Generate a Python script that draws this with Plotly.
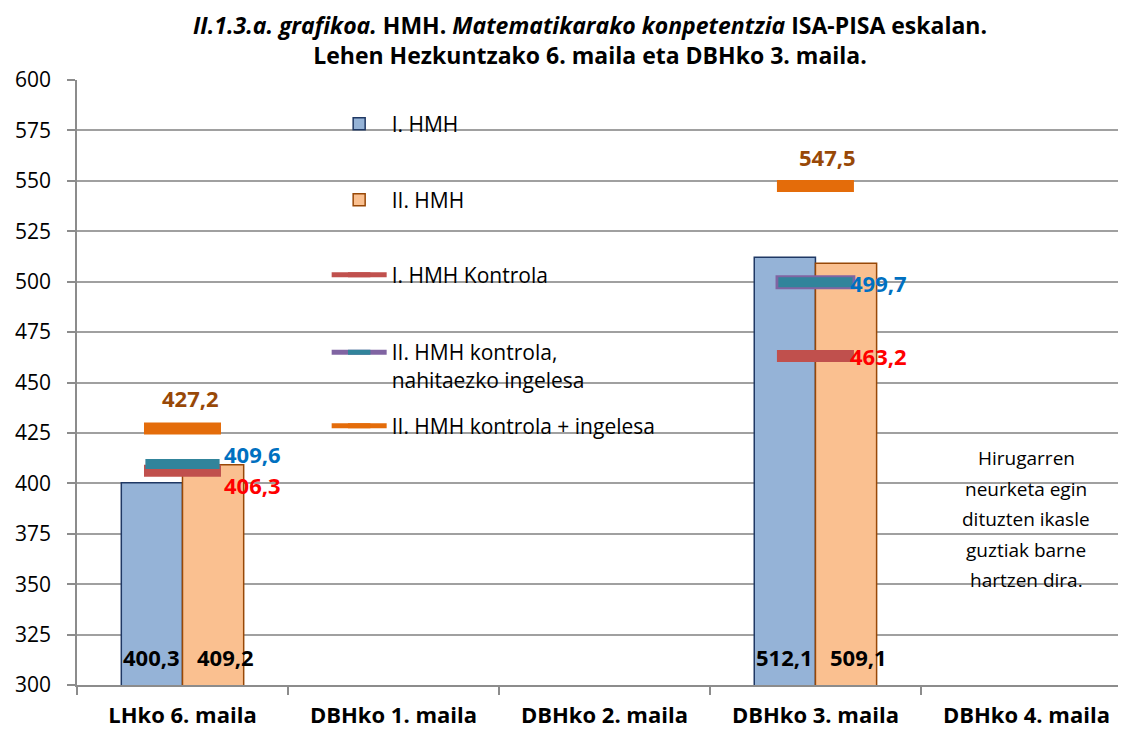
import plotly.graph_objects as go

categories = ["LHko 6. maila", "DBHko 1. maila", "DBHko 2. maila", "DBHko 3. maila", "DBHko 4. maila"]
hmh1 = [400.3, None, None, 512.1, None]
hmh2 = [409.2, None, None, 509.1, None]
kontrola1 = [406.3, None, None, 463.2, None]
kontrola2_nahit = [409.6, None, None, 499.7, None]
kontrola2_ingelesa = [427.2, None, None, 547.5, None]
y_ticks = [300, 325, 350, 375, 400, 425, 450, 475, 500, 525, 550, 575, 600]
note_lines = ["Hirugarren", "neurketa egin", "dituzten ikasle", "guztiak barne", "hartzen dira."]

FONT = "Open Sans"
# page is offset by the 8px body margin: figure px = page px - 8
PT, PB, PL = 72, 677, 69   # plot top / bottom / left in figure px
PH = PB - PT

def fmt(v):
    return f"{v:.1f}".replace(".", ",")

def ypaper(page_px):
    return (PB - (page_px - 8)) / PH

fig = go.Figure()

fig.add_trace(go.Bar(x=categories, y=hmh1, name="I. HMH", legend="legend",
                     marker=dict(color="#95B3D7", line=dict(color="#1F3864", width=1.5))))
fig.add_trace(go.Bar(x=categories, y=hmh2, name="II. HMH", legend="legend2",
                     marker=dict(color="#FAC090", line=dict(color="#984807", width=1.5))))

MW, MH = 55, 12
fig.add_trace(go.Scatter(x=categories, y=kontrola1, name="I. HMH Kontrola", legend="legend3",
                         mode="lines+markers", line=dict(color="#C0504D", width=5),
                         marker=dict(symbol="line-ew", size=MW, line=dict(color="#C0504D", width=MH))))
# purple border of II kontrola markers
fig.add_trace(go.Scatter(x=categories, y=kontrola2_nahit, showlegend=False, mode="markers",
                         hoverinfo="skip",
                         marker=dict(symbol="line-ew", size=MW + 2,
                                     line=dict(color=["rgba(0,0,0,0)", "#8064A2", "#8064A2", "#8064A2", "#8064A2"],
                                               width=MH + 2))))
fig.add_trace(go.Scatter(x=categories, y=kontrola2_nahit, name="II. HMH kontrola,<br>nahitaezko ingelesa",
                         legend="legend4", mode="lines+markers", line=dict(color="#8064A2", width=5),
                         marker=dict(symbol="line-ew", size=MW - 2, line=dict(color="#31849B", width=MH - 2))))
fig.add_trace(go.Scatter(x=categories, y=kontrola2_ingelesa, name="II. HMH kontrola + ingelesa",
                         legend="legend5", mode="lines+markers", line=dict(color="#E46C0A", width=5),
                         marker=dict(symbol="line-ew", size=MW, line=dict(color="#E46C0A", width=MH))))

annotations = []
# bar value labels at bar base
for vals, dx in ((hmh1, -31), (hmh2, 43)):
    for c, v in zip(categories, vals):
        if v is None:
            continue
        annotations.append(dict(x=c, y=300, xref="x", yref="y", text=f"<b>{fmt(v)}</b>", showarrow=False,
                                xshift=dx, yshift=28, yanchor="middle",
                                font=dict(family=FONT, size=22, color="black")))

series_labels = [
    (kontrola2_ingelesa, "#984807", "center", [8, 0, 0, 12, 0], [30, 0, 0, 29, 0]),
    (kontrola2_nahit, "#0070C0", "left", [40, 0, 0, 33, 0], [10, 0, 0, -1, 0]),
    (kontrola1, "#FF0000", "left", [40, 0, 0, 33, 0], [-14, 0, 0, 0, 0]),
]
for vals, col, anchor, dxs, dys in series_labels:
    for c, v, dx, dy in zip(categories, vals, dxs, dys):
        if v is None:
            continue
        annotations.append(dict(x=c, y=v, xref="x", yref="y", text=f"<b>{fmt(v)}</b>", showarrow=False,
                                xanchor=anchor, yanchor="middle", xshift=dx, yshift=dy,
                                font=dict(family=FONT, size=22, color=col)))

for i, line in enumerate(note_lines):
    annotations.append(dict(x=categories[4], y=ypaper(458 + i * 30.5), xref="x", yref="paper", text=line,
                            showarrow=False, xanchor="center", yanchor="middle",
                            font=dict(family=FONT, size=19, color="black")))

def leg(page_y, anchor="middle", valign="middle"):
    return dict(x=0.238, y=ypaper(page_y), xref="paper", yref="paper", xanchor="left", yanchor=anchor,
                bgcolor="rgba(0,0,0,0)", font=dict(family=FONT, size=21, color="black"),
                itemwidth=55, valign=valign, itemclick=False)

fig.update_layout(
    width=1126, height=733,
    margin=dict(l=PL, r=8, t=PT, b=733 - PB, autoexpand=False),
    paper_bgcolor="white", plot_bgcolor="white",
    barmode="group", bargap=0.42, bargroupgap=0,
    title=dict(text="<b><i>II.1.3.a. grafikoa.</i> HMH. <i>Matematikarako konpetentzia</i> ISA-PISA eskalan.<br>"
                    "Lehen Hezkuntzako 6. maila eta DBHko 3. maila.</b>",
               x=582 / 1126, xanchor="center", xref="container", y=1 - 26 / 733, yanchor="top",
               yref="container", font=dict(family=FONT, size=23, color="black")),
    xaxis=dict(type="category", categoryorder="array", categoryarray=categories, range=[-0.5, 4.472],
               tickson="boundaries", ticks="outside", ticklen=8, tickcolor="#8C8C8C", tickwidth=1.5,
               showline=True, linecolor="#8C8C8C", linewidth=1.5, showgrid=False, automargin=False,
               tickfont=dict(family=FONT, size=22, color="black"), ticklabelstandoff=10,
               tickprefix="<b>", ticksuffix="</b>"),
    yaxis=dict(range=[300, 600], tickvals=y_ticks, ticks="outside", ticklen=8, tickcolor="#8C8C8C",
               tickwidth=1.5, showline=True, linecolor="#8C8C8C", linewidth=1.5, automargin=False,
               showgrid=True, gridcolor="#A0A0A0", gridwidth=1.5, zeroline=False,
               tickfont=dict(family=FONT, size=21, color="black"), ticklabelstandoff=12),
    legend=leg(124),
    legend2=leg(200),
    legend3=leg(275),
    legend4=leg(366, valign="top"),
    legend5=leg(426),
    annotations=annotations,
    showlegend=True,
)

fig.write_html("out.html")
